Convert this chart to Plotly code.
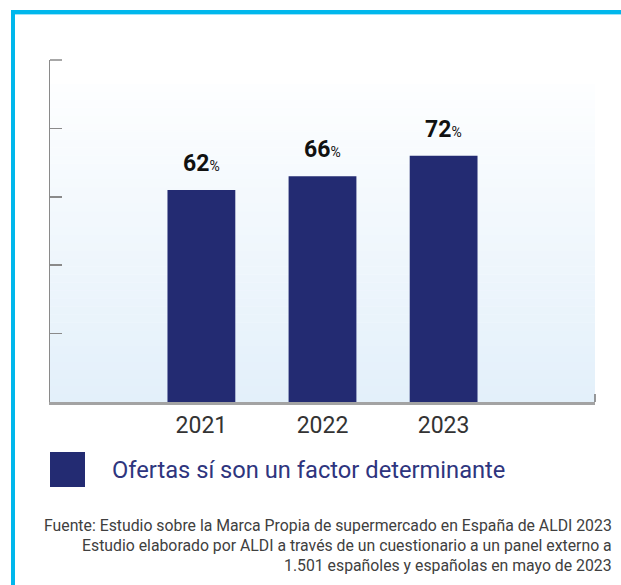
import plotly.graph_objects as go

years = ["2021", "2022", "2023"]
values = [62, 66, 72]
labels = ["62", "66", "72"]
series_name = "Ofertas sí son un factor determinante"
y_ticks = [0, 20, 40, 60, 80, 100]
footnote = [
    "Fuente: Estudio sobre la Marca Propia de supermercado en España de ALDI 2023",
    "Estudio elaborado por ALDI a través de un cuestionario a un panel externo a",
    "1.501 españoles y españolas en mayo de 2023",
]

W, H = 621, 585
L, R, T, B = 50, 595, 60, 402  # plot area in pixels
NAVY = "#232b72"
FONT = "Roboto"
xpos = list(range(len(years)))


def px_x(x):
    return (x - L) / (R - L)


def px_y(y):
    return (B - y) / (B - T)


fig = go.Figure()
fig.add_trace(go.Bar(
    x=xpos, y=values, name=series_name,
    marker=dict(color=NAVY, line=dict(width=0)),
    width=0.56, showlegend=False, hoverinfo="skip",
))

shapes = []
# gradient background
n = 40
top_frac = px_y(84)
c0 = (0xe3, 0xf0, 0xfa)
c1 = (0xfd, 0xfe, 0xff)
for i in range(n):
    t = i / (n - 1)
    col = tuple(round(c0[k] + (c1[k] - c0[k]) * t) for k in range(3))
    shapes.append(dict(
        type="rect", xref="paper", yref="paper", layer="below",
        x0=0, x1=1, y0=top_frac * i / n, y1=top_frac * (i + 1) / n + 0.001,
        fillcolor="rgb(%d,%d,%d)" % col, line=dict(width=0),
    ))
# small end tick on x axis
shapes.append(dict(type="line", xref="paper", yref="paper",
                   x0=1, x1=1, y0=0, y1=px_y(394),
                   line=dict(color="#777777", width=1.5)))
# top tick on y axis
shapes.append(dict(type="line", xref="paper", yref="paper",
                   x0=0, x1=px_x(62), y0=1, y1=1,
                   line=dict(color="#8a8a8a", width=1.5)))
# cyan frame
shapes.append(dict(type="line", xref="paper", yref="paper",
                   x0=px_x(11), x1=px_x(W + 5), y0=px_y(12), y1=px_y(12),
                   line=dict(color="#00b7ec", width=4)))
shapes.append(dict(type="line", xref="paper", yref="paper",
                   x0=px_x(15), x1=px_x(W + 5), y0=px_y(14.5), y1=px_y(14.5),
                   line=dict(color="#9fe2f7", width=1)))
shapes.append(dict(type="line", xref="paper", yref="paper",
                   x0=px_x(13), x1=px_x(13), y0=px_y(10), y1=px_y(H + 5),
                   line=dict(color="#00b7ec", width=4)))
# legend square
shapes.append(dict(type="rect", xref="paper", yref="paper",
                   x0=px_x(50), x1=px_x(85), y0=px_y(487), y1=px_y(452),
                   fillcolor=NAVY, line=dict(width=0)))

annotations = []
for xp, v, lab in zip(xpos, values, labels):
    annotations.append(dict(
        x=xp, y=v, xref="x", yref="y", yanchor="bottom", yshift=11,
        text="<b>" + lab + "</b><span style=\"font-size:14px\">%</span>",
        showarrow=False, font=dict(family=FONT, size=23, color="#111111"),
    ))
annotations.append(dict(
    x=px_x(110), y=px_y(470), xref="paper", yref="paper",
    xanchor="left", yanchor="middle", showarrow=False,
    text=series_name, font=dict(family=FONT, size=23.7, color="#2e357e"),
))
for i, line in enumerate(footnote):
    annotations.append(dict(
        x=px_x(614), y=px_y(525 + 20 * i), xref="paper", yref="paper",
        xanchor="right", yanchor="middle", showarrow=False,
        text=line, font=dict(family=FONT, size=15.8, color="#404040"),
    ))

fig.update_layout(
    width=W, height=H,
    margin=dict(l=L, r=W - R, t=T, b=H - B, pad=0),
    paper_bgcolor="white", plot_bgcolor="rgba(0,0,0,0)",
    shapes=shapes, annotations=annotations,
    showlegend=False,
    xaxis=dict(
        range=[-1.25, 3.25], tickvals=xpos, ticktext=years,
        showline=True, linecolor="#a3a3a3", linewidth=2.5,
        ticks="", showgrid=False, zeroline=False,
        tickfont=dict(family=FONT, size=23, color="#333333"),
        ticklabelstandoff=1,
    ),
    yaxis=dict(
        range=[0, 100], tickvals=y_ticks, showticklabels=False,
        showline=True, linecolor="#8a8a8a", linewidth=1.5,
        ticks="inside", ticklen=12, tickcolor="#8a8a8a", tickwidth=1.5,
        showgrid=False, zeroline=False,
    ),
)

fig.write_html(
    "out.html",
    config={"displayModeBar": False, "staticPlot": True},
    post_script="document.body.style.margin='0';document.body.style.padding='0';",
)
